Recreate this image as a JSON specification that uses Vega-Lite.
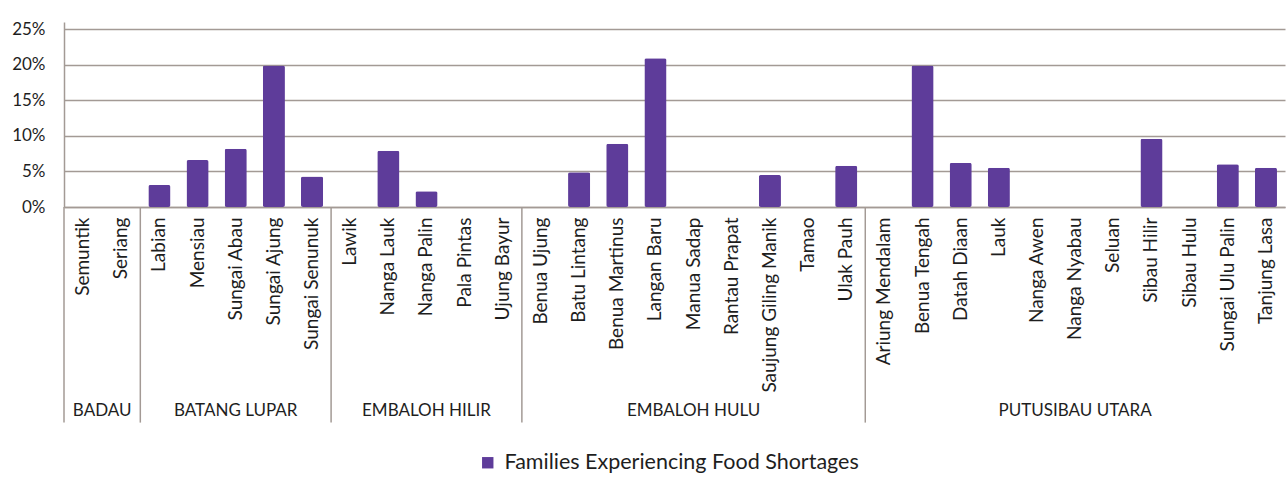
{
  "$schema": "https://vega.github.io/schema/vega-lite/v6.json",
  "width": 1221,
  "height": 185,
  "autosize": {"type": "none"},
  "padding": {"left": 64, "top": 22, "right": 1, "bottom": 273},
  "config": {"font": "Lato", "view": {"stroke": null}},
  "layer": [
    {
      "data": {"values": [
        {"district": "BADAU", "village": "Semuntik", "pct": 0},
        {"district": "BADAU", "village": "Seriang", "pct": 0},
        {"district": "BATANG LUPAR", "village": "Labian", "pct": 0.031},
        {"district": "BATANG LUPAR", "village": "Mensiau", "pct": 0.066},
        {"district": "BATANG LUPAR", "village": "Sungai Abau", "pct": 0.082},
        {"district": "BATANG LUPAR", "village": "Sungai Ajung", "pct": 0.199},
        {"district": "BATANG LUPAR", "village": "Sungai Senunuk", "pct": 0.043},
        {"district": "EMBALOH HILIR", "village": "Lawik", "pct": 0},
        {"district": "EMBALOH HILIR", "village": "Nanga Lauk", "pct": 0.079},
        {"district": "EMBALOH HILIR", "village": "Nanga Palin", "pct": 0.022},
        {"district": "EMBALOH HILIR", "village": "Pala Pintas", "pct": 0},
        {"district": "EMBALOH HILIR", "village": "Ujung Bayur", "pct": 0},
        {"district": "EMBALOH HULU", "village": "Benua Ujung", "pct": 0},
        {"district": "EMBALOH HULU", "village": "Batu Lintang", "pct": 0.049},
        {"district": "EMBALOH HULU", "village": "Benua Martinus", "pct": 0.089},
        {"district": "EMBALOH HULU", "village": "Langan Baru", "pct": 0.209},
        {"district": "EMBALOH HULU", "village": "Manua Sadap", "pct": 0},
        {"district": "EMBALOH HULU", "village": "Rantau Prapat", "pct": 0},
        {"district": "EMBALOH HULU", "village": "Saujung Giling Manik", "pct": 0.045},
        {"district": "EMBALOH HULU", "village": "Tamao", "pct": 0},
        {"district": "EMBALOH HULU", "village": "Ulak Pauh", "pct": 0.058},
        {"district": "PUTUSIBAU UTARA", "village": "Ariung Mendalam", "pct": 0},
        {"district": "PUTUSIBAU UTARA", "village": "Benua Tengah", "pct": 0.199},
        {"district": "PUTUSIBAU UTARA", "village": "Datah Diaan", "pct": 0.062},
        {"district": "PUTUSIBAU UTARA", "village": "Lauk", "pct": 0.055},
        {"district": "PUTUSIBAU UTARA", "village": "Nanga Awen", "pct": 0},
        {"district": "PUTUSIBAU UTARA", "village": "Nanga Nyabau", "pct": 0},
        {"district": "PUTUSIBAU UTARA", "village": "Seluan", "pct": 0},
        {"district": "PUTUSIBAU UTARA", "village": "Sibau Hilir", "pct": 0.096},
        {"district": "PUTUSIBAU UTARA", "village": "Sibau Hulu", "pct": 0},
        {"district": "PUTUSIBAU UTARA", "village": "Sungai Ulu Palin", "pct": 0.06},
        {"district": "PUTUSIBAU UTARA", "village": "Tanjung Lasa", "pct": 0.055}
      ]},
      "mark": {"type": "bar", "width": {"band": 0.58}, "cornerRadius": 2},
      "encoding": {
        "x": {
          "field": "village", "type": "nominal",
          "scale": {
            "domain": ["Semuntik", "Seriang", "Labian", "Mensiau", "Sungai Abau", "Sungai Ajung", "Sungai Senunuk", "Lawik", "Nanga Lauk", "Nanga Palin", "Pala Pintas", "Ujung Bayur", "Benua Ujung", "Batu Lintang", "Benua Martinus", "Langan Baru", "Manua Sadap", "Rantau Prapat", "Saujung Giling Manik", "Tamao", "Ulak Pauh", "Ariung Mendalam", "Benua Tengah", "Datah Diaan", "Lauk", "Nanga Awen", "Nanga Nyabau", "Seluan", "Sibau Hilir", "Sibau Hulu", "Sungai Ulu Palin", "Tanjung Lasa"],
            "paddingInner": 0, "paddingOuter": 0
          },
          "axis": {"title": null, "labelAngle": -90, "labelFontSize": 19, "labelColor": "#1e1e1e", "ticks": false, "labelPadding": 10, "labelOverlap": false, "domainColor": "#a39a95", "domainWidth": 1.5}
        },
        "y": {
          "field": "pct", "type": "quantitative",
          "scale": {"domain": [0, 0.25]},
          "axis": {"title": null, "format": ".0%", "values": [0, 0.05, 0.1, 0.15, 0.2, 0.25], "labelOverlap": false, "gridColor": "#a39a95", "gridWidth": 1.5, "gridOpacity": 1, "domainColor": "#a39a95", "domainWidth": 1.5, "ticks": false, "labelFontSize": 17, "labelColor": "#1e1e1e", "labelPadding": 19}
        },
        "color": {
          "datum": "Families Experiencing Food Shortages",
          "scale": {"range": ["#5e3c9a"]},
          "legend": {"title": null, "orient": "none", "legendX": 413, "legendY": 430, "symbolType": "square", "symbolSize": 130, "labelFontSize": 21.5, "labelLimit": 0, "labelColor": "#1e1e1e", "labelOffset": 6, "symbolStrokeWidth": 0}
        }
      }
    },
    {
      "data": {"values": [
        {"district": "BADAU", "start": "Semuntik"},
        {"district": "BATANG LUPAR", "start": "Labian"},
        {"district": "EMBALOH HILIR", "start": "Lawik"},
        {"district": "EMBALOH HULU", "start": "Benua Ujung"},
        {"district": "PUTUSIBAU UTARA", "start": "Ariung Mendalam"}
      ]},
      "mark": {"type": "rule", "color": "#a39a95", "strokeWidth": 1.5},
      "encoding": {
        "x": {"field": "start", "type": "nominal", "bandPosition": 0},
        "y": {"datum": 0, "axis": {"title": null, "format": ".0%", "values": [0, 0.05, 0.1, 0.15, 0.2, 0.25], "labelOverlap": false, "gridColor": "#a39a95", "gridWidth": 1.5, "gridOpacity": 1, "domainColor": "#a39a95", "domainWidth": 1.5, "ticks": false, "labelFontSize": 17, "labelColor": "#1e1e1e", "labelPadding": 19}},
        "y2": {"datum": -0.303}
      }
    },
    {
      "data": {"values": [
        {"district": "BATANG LUPAR", "mid": "Sungai Abau"},
        {"district": "EMBALOH HILIR", "mid": "Nanga Palin"},
        {"district": "EMBALOH HULU", "mid": "Manua Sadap"},
        {"district": "PUTUSIBAU UTARA", "mid": "Nanga Nyabau"}
      ]},
      "mark": {"type": "text", "fontSize": 17, "color": "#1e1e1e", "baseline": "middle", "align": "center"},
      "encoding": {
        "x": {"field": "mid", "type": "nominal", "bandPosition": 0.5},
        "y": {"datum": -0.286, "axis": {"title": null, "format": ".0%", "values": [0, 0.05, 0.1, 0.15, 0.2, 0.25], "labelOverlap": false, "gridColor": "#a39a95", "gridWidth": 1.5, "gridOpacity": 1, "domainColor": "#a39a95", "domainWidth": 1.5, "ticks": false, "labelFontSize": 17, "labelColor": "#1e1e1e", "labelPadding": 19}},
        "text": {"field": "district"}
      }
    },
    {
      "data": {"values": [
        {"district": "BADAU", "mid": "Seriang"}
      ]},
      "mark": {"type": "text", "fontSize": 17, "color": "#1e1e1e", "baseline": "middle", "align": "center"},
      "encoding": {
        "x": {"field": "mid", "type": "nominal", "bandPosition": 0},
        "y": {"datum": -0.286, "axis": {"title": null, "format": ".0%", "values": [0, 0.05, 0.1, 0.15, 0.2, 0.25], "labelOverlap": false, "gridColor": "#a39a95", "gridWidth": 1.5, "gridOpacity": 1, "domainColor": "#a39a95", "domainWidth": 1.5, "ticks": false, "labelFontSize": 17, "labelColor": "#1e1e1e", "labelPadding": 19}},
        "text": {"field": "district"}
      }
    }
  ]
}
